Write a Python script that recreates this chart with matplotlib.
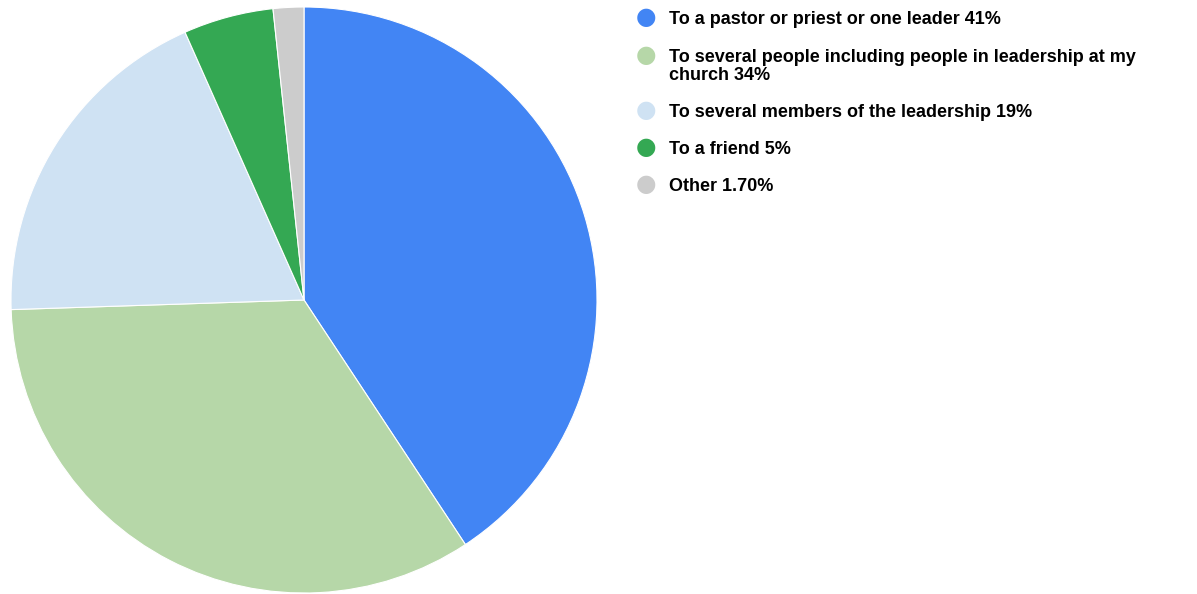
import matplotlib
matplotlib.use('Agg')
import matplotlib.pyplot as plt

labels = [
    'To a pastor or priest or one leader 41%',
    'To several people including people in leadership at my\nchurch 34%',
    'To several members of the leadership 19%',
    'To a friend 5%',
    'Other 1.70%',
]
values = [41, 34, 19, 5, 1.7]
colors = ['#4285f4', '#b6d7a8', '#cfe2f3', '#34a853', '#cccccc']

plt.rcParams['font.family'] = ['Liberation Sans', 'DejaVu Sans']

fig = plt.figure(figsize=(11.97, 5.94), dpi=100)
W, H = 1197, 594

# pie centred at (304, 300) px, radius 293 px
ax = fig.add_axes([11 / W, 1 / H, 586 / W, 586 / H])
ax.pie(values, colors=colors, startangle=90, counterclock=False,
       wedgeprops=dict(linewidth=0.8, edgecolor='white'))
ax.set_xlim(-1, 1)
ax.set_ylim(-1, 1)
ax.set_aspect('equal')

# legend drawn by hand: circle + bold text
rows_y = [17, 55, 110, 147, 184]
for lab, col, y in zip(labels, colors, rows_y):
    fig.text(646 / W, 1 - y / H, '\u25cf', color=col, fontsize=17,
             ha='center', va='center', family='DejaVu Sans')
    fig.text(669 / W, 1 - (y - 6.5) / H, lab, fontsize=13, fontweight='bold',
             ha='left', va='top', linespacing=1.08, color='black')

fig.savefig('out.png', dpi=100)
